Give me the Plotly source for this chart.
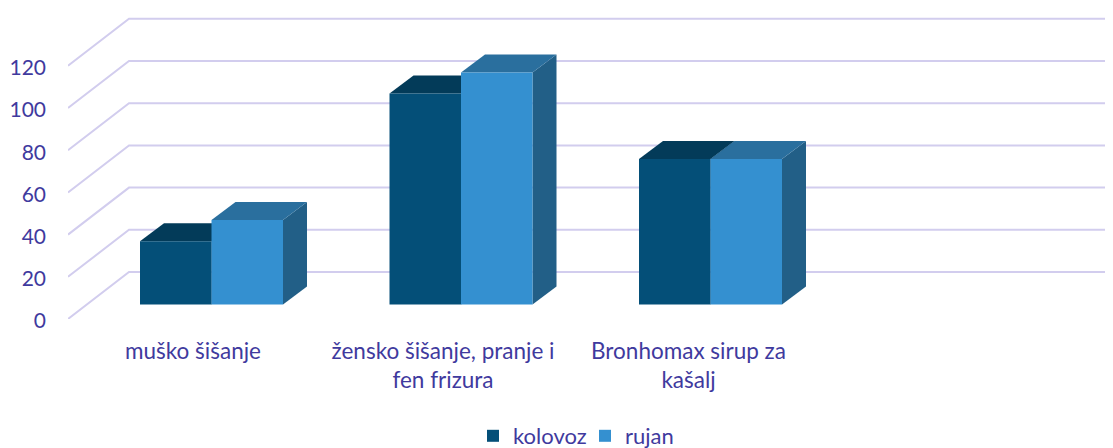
import plotly.graph_objects as go

categories = ["muško šišanje", "žensko šišanje, pranje i<br>fen frizura", "Bronhomax sirup za<br>kašalj"]
kolovoz = [30, 100, 69]
rujan = [40, 110, 69]
y_ticks = [0, 20, 40, 60, 80, 100, 120]
label_shift_px = [-18.5, -18, -22]

TEXT = "#3F3A9E"
GRID = "#D2CDEE"
FONT = "Lato, Carlito, sans-serif"

# the page has an 8 px body margin, so the figure is 1105 x 440
FIG_W, FIG_H = 1105, 440
LEFT = 60
ZERO_Y = 311

# pixel-to-axis proportions of the oblique projection
PX_X = 249.5
PX_Y = 2.11
X_MIN = (LEFT - 203.5) / PX_X
X_MAX = (FIG_W - 203.5) / PX_X
Y_MAX = ZERO_Y / PX_Y
DEPTH_X = 61 / PX_X
DEPTH_Y = 47 / PX_Y
BAR_W = 71.5 / PX_X
BASE = 14.5 / PX_Y
BAR_DX = 24 / PX_X
BAR_DY = 18 / PX_Y

series = [
    ("kolovoz", kolovoz, -1, "#044F78", "#033B59", "#033B59"),
    ("rujan", rujan, 0, "#3490D0", "#2A6F9E", "#225F87"),
]

fig = go.Figure()

for v in y_ticks:
    fig.add_trace(go.Scatter(
        x=[X_MIN, X_MIN + DEPTH_X, X_MAX], y=[v, v + DEPTH_Y, v + DEPTH_Y],
        mode="lines", line=dict(color=GRID, width=2),
        showlegend=False, hoverinfo="skip", zorder=0, cliponaxis=False))

z = 1
for name, vals, off, front, top, side in series:
    for c, v in enumerate(vals):
        x0 = c + off * BAR_W
        x1 = x0 + BAR_W
        h = BASE + v
        fig.add_trace(go.Scatter(
            x=[x1, x1 + BAR_DX, x1 + BAR_DX, x1, x1],
            y=[BASE, BASE + BAR_DY, h + BAR_DY, h, BASE],
            mode="lines", fill="toself", fillcolor=side, line=dict(width=0),
            showlegend=False, hoverinfo="skip", zorder=z))
        fig.add_trace(go.Scatter(
            x=[x0, x0 + BAR_DX, x1 + BAR_DX, x1, x0],
            y=[h, h + BAR_DY, h + BAR_DY, h, h],
            mode="lines", fill="toself", fillcolor=top, line=dict(width=0),
            showlegend=False, hoverinfo="skip", zorder=z))
    fig.add_trace(go.Bar(
        name=name, x=[c + off * BAR_W + BAR_W / 2 for c in range(len(vals))],
        y=vals, base=BASE, width=BAR_W, marker=dict(color=front, line=dict(width=0)),
        zorder=z + 1))
    z += 2

fig.update_layout(
    width=FIG_W, height=FIG_H, autosize=False,
    margin=dict(l=LEFT, r=0, t=0, b=FIG_H - ZERO_Y, pad=0),
    paper_bgcolor="white", plot_bgcolor="white",
    barmode="overlay",
    font=dict(family=FONT, color=TEXT, size=20),
    xaxis=dict(range=[X_MIN, X_MAX], tickmode="array",
               tickvals=[c + s / PX_X for c, s in enumerate(label_shift_px)],
               ticktext=categories, showgrid=False, zeroline=False, showline=False,
               ticks="", ticklabelstandoff=16, tickangle=0,
               tickfont=dict(size=22.5, color=TEXT)),
    yaxis=dict(range=[0, Y_MAX], tickmode="array", tickvals=y_ticks,
               showgrid=False, zeroline=False, showline=False,
               ticks="", ticklabelstandoff=21, ticklabelshift=2,
               tickfont=dict(size=21, color=TEXT)),
    legend=dict(orientation="h", xref="container", yref="container",
                x=465 / FIG_W, xanchor="left", y=12 / FIG_H, yanchor="middle",
                entrywidth=67, entrywidthmode="pixels",
                font=dict(size=22, color=TEXT), bgcolor="rgba(0,0,0,0)"),
)
fig.write_html("out.html")
